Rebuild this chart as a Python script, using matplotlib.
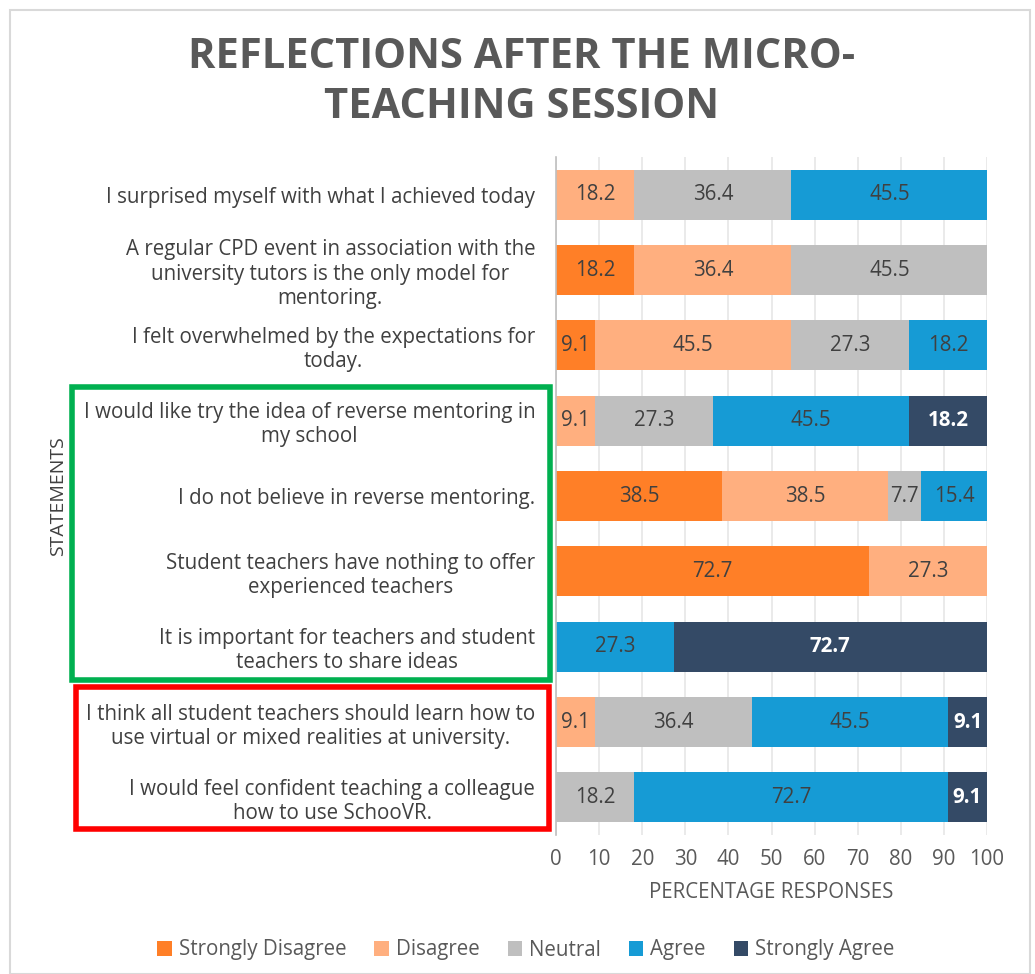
import matplotlib
matplotlib.use("Agg")
import matplotlib.pyplot as plt
from matplotlib.patches import Rectangle, Patch
import numpy as np

plt.rcParams['font.family'] = ['Open Sans', 'DejaVu Sans']

statements = [
    "I surprised myself with what I achieved today",
    "A regular CPD event in association with the\nuniversity tutors is the only model for\nmentoring.",
    "I felt overwhelmed by the expectations for\ntoday.",
    "I would like try the idea of reverse mentoring in\nmy school",
    "I do not believe in reverse mentoring.",
    "Student teachers have nothing to offer\nexperienced teachers",
    "It is important for teachers and student\nteachers to share ideas",
    "I think all student teachers should learn how to\nuse virtual or mixed realities at university.",
    "I would feel confident teaching a colleague\nhow to use SchooVR.",
]
categories = ["Strongly Disagree", "Disagree", "Neutral", "Agree", "Strongly Agree"]
strongly_disagree = [0, 18.2, 9.1, 0, 38.5, 72.7, 0, 0, 0]
disagree = [18.2, 36.4, 45.5, 9.1, 38.5, 27.3, 0, 9.1, 0]
neutral = [36.4, 45.5, 27.3, 27.3, 7.7, 0, 0, 36.4, 18.2]
agree = [45.5, 0, 18.2, 45.5, 15.4, 0, 27.3, 45.5, 72.7]
strongly_agree = [0, 0, 0, 18.2, 0, 0, 72.7, 9.1, 9.1]
x_ticks = [0, 10, 20, 30, 40, 50, 60, 70, 80, 90, 100]

series = [strongly_disagree, disagree, neutral, agree, strongly_agree]
colors = ["#FF7F27", "#FFAF7F", "#BFBFBF", "#169BD5", "#344A66"]
label_colors = ["#404040", "#404040", "#404040", "#404040", "white"]
label_weights = ["normal", "normal", "normal", "normal", "bold"]

W, H = 1035, 974
fig = plt.figure(figsize=(W / 100, H / 100), dpi=100)
ax = fig.add_axes([556 / W, 1 - 835 / H, (987 - 556) / W, (835 - 157) / H])

FS = 14.8
y = np.arange(len(statements))
left = np.zeros(len(statements))
for vals, col, lc, lw, name in zip(series, colors, label_colors, label_weights, categories):
    vals = np.array(vals)
    bars = ax.barh(y, vals, left=left, height=0.66, color=col, label=name, zorder=2)
    for b, v, l in zip(bars, vals, left):
        if v > 0:
            ax.text(l + v / 2, b.get_y() + b.get_height() / 2, f"{v:.1f}",
                    ha="center", va="center", fontsize=FS, color=lc,
                    fontweight=lw, zorder=3)
    left += vals

ax.set_ylim(len(statements) - 0.5, -0.5)
ax.set_xlim(0, 100)
ax.set_xticks(x_ticks)
ax.set_xticklabels([str(t) for t in x_ticks], fontsize=FS, color="#595959")
ax.set_yticks(y)
ax.set_yticklabels(statements, fontsize=FS, color="#404040", ha="right",
                   linespacing=1.2)
for t in ax.get_yticklabels():
    t.set_multialignment("center")
ax.tick_params(axis="y", length=0, pad=15)
ax.tick_params(axis="x", length=0, pad=10)
ax.grid(axis="x", color="#E6E6E6", linewidth=1.2, zorder=0)
for s in ["top", "right", "bottom"]:
    ax.spines[s].set_visible(False)
ax.spines["left"].set_color("#BFBFBF")
ax.spines["left"].set_linewidth(1.2)
ax.set_xlabel("PERCENTAGE RESPONSES", fontsize=FS, color="#595959", labelpad=9)

fig.text(58 / W, 1 - 496 / H, "STATEMENTS", rotation=90, ha="center", va="center",
         fontsize=14, color="#404040")

fig.text(522 / W, 1 - 58 / H, "REFLECTIONS AFTER THE MICRO-", ha="center", va="center",
         fontsize=30, fontweight="bold", color="#595959")
fig.text(522 / W, 1 - 108 / H, "TEACHING SESSION", ha="center", va="center",
         fontsize=30, fontweight="bold", color="#595959")

handles = [Patch(facecolor=c, label=n) for c, n in zip(colors, categories)]
fig.legend(handles=handles, loc="center", bbox_to_anchor=(526 / W, 1 - 950 / H),
           ncol=5, frameon=False, fontsize=FS, handlelength=0.7, handleheight=0.7,
           handletextpad=0.35, columnspacing=1.35, labelcolor="#595959")

# chart border
fig.patches.append(Rectangle((10 / W, 0), (1030 - 10) / W, 1 - 10 / H,
                             transform=fig.transFigure, fill=False,
                             edgecolor="#D9D9D9", linewidth=1.5))
# highlight boxes
fig.patches.append(Rectangle((72 / W, 1 - 680 / H), (550 - 72) / W, (680 - 387) / H,
                             transform=fig.transFigure, fill=False,
                             edgecolor="#00B050", linewidth=4))
fig.patches.append(Rectangle((76 / W, 1 - 829 / H), (549 - 76) / W, (829 - 687) / H,
                             transform=fig.transFigure, fill=False,
                             edgecolor="#FF0000", linewidth=4))

fig.savefig("out.png", dpi=100, facecolor="white")
